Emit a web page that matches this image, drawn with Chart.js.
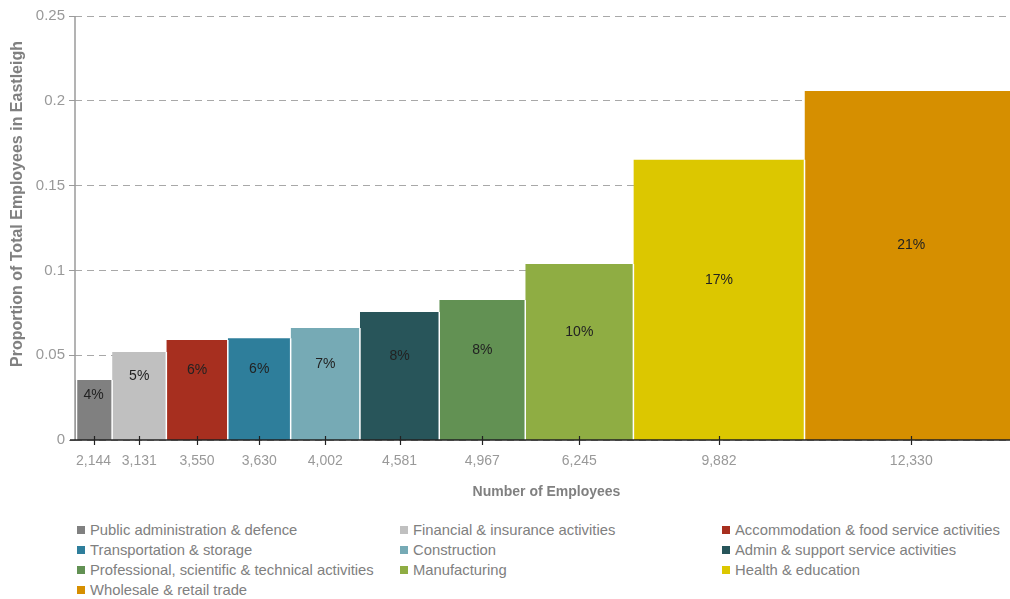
<!DOCTYPE html>
<html>
<head>
<meta charset="utf-8">
<title>Employees by sector, Eastleigh</title>
<script src="https://cdn.jsdelivr.net/npm/chart.js@4/dist/chart.umd.min.js"></script>
<style>
  html, body { margin: 0; padding: 0; background: #fff; overflow: hidden; }
  #wrap { position: relative; width: 1010px; height: 599px; overflow: hidden; font-family: "Liberation Sans", Arial, sans-serif; }
  #chart { position: absolute; left: 0; top: 0; }
  #legend { position: absolute; left: 0; top: 520px; width: 1010px; height: 80px; }
  .item { position: absolute; font-size: 14.8px; color: #808080; line-height: 20px; white-space: nowrap; }
  .item span.box { display: inline-block; width: 8px; height: 8px; margin-right: 5px; vertical-align: 1px; }
</style>
</head>
<body>
<div id="wrap">
  <canvas id="chart" width="1018" height="510"></canvas>
  <div id="legend"></div>
</div>
<script>
// Sectors, ordered from smallest to largest workforce
const categories = [
  "Public administration & defence",
  "Financial & insurance activities",
  "Accommodation & food service activities",
  "Transportation & storage",
  "Construction",
  "Admin & support service activities",
  "Professional, scientific & technical activities",
  "Manufacturing",
  "Health & education",
  "Wholesale & retail trade"
];
// Number of employees per sector (bar widths)
const employees = [2144, 3131, 3550, 3630, 4002, 4581, 4967, 6245, 9882, 12330];
// Share of all employees in Eastleigh (bar heights)
const proportions = [0.0354, 0.0519, 0.0590, 0.0600, 0.0660, 0.0755, 0.0825, 0.1038, 0.1652, 0.2058];
const colors = ["#808080", "#c0c0c0", "#a72f1f", "#2e7e9b", "#76aab5", "#28555a", "#629153", "#8fad43", "#dcc700", "#d68f00"];
const yTicks = [0, 0.05, 0.1, 0.15, 0.2, 0.25];

// Cumulative edges along the employee axis
const edges = [0];
employees.forEach(n => edges.push(edges[edges.length - 1] + n));
const centers = employees.map((n, i) => edges[i] + n / 2);
const total = edges[edges.length - 1];

// Each sector is a filled step from its left edge to its right edge
const datasets = categories.map((name, i) => ({
  label: name,
  data: [{ x: edges[i], y: proportions[i] }, { x: edges[i + 1], y: proportions[i] }],
  backgroundColor: colors[i],
  borderColor: "transparent",
  borderWidth: 0,
  pointRadius: 0,
  tension: 0,
  fill: "origin"
}));

const FONT = "'Liberation Sans', Arial, sans-serif";

const mekkoDecor = {
  id: "mekkoDecor",
  afterDatasetsDraw(chart) {
    const { ctx, chartArea, scales: { x, y } } = chart;
    const base = y.getPixelForValue(0);
    ctx.save();

    // white separators between neighbouring sectors
    ctx.strokeStyle = "#ffffff";
    ctx.lineWidth = 1.5;
    edges.forEach((e, i) => {
      const left = i > 0 ? proportions[i - 1] : 0;
      const right = i < proportions.length ? proportions[i] : 0;
      const top = y.getPixelForValue(Math.min(left, right) || Math.max(left, right));
      let px = x.getPixelForValue(e);
      if (i === 0) px += 1.5;
      ctx.beginPath();
      ctx.moveTo(px, base);
      ctx.lineTo(px, top);
      ctx.stroke();
    });

    // percentage labels
    ctx.fillStyle = "#222";
    ctx.font = "14px " + FONT;
    ctx.textAlign = "center";
    ctx.textBaseline = "middle";
    proportions.forEach((p, i) => {
      const top = y.getPixelForValue(p);
      const mid = (top + base) / 2;
      const ty = Math.max(top + 15, mid - 20);
      ctx.fillText(Math.round(p * 100) + "%", x.getPixelForValue(centers[i]), ty);
    });

    // value axis line
    ctx.strokeStyle = "#9a9a9a";
    ctx.lineWidth = 1.5;
    ctx.beginPath();
    ctx.moveTo(chartArea.left, chartArea.top);
    ctx.lineTo(chartArea.left, base);
    ctx.stroke();

    // employee axis line and tick crosses
    ctx.strokeStyle = "#222";
    ctx.lineWidth = 1.5;
    ctx.beginPath();
    ctx.moveTo(chartArea.left - 5, base);
    ctx.lineTo(chartArea.right, base);
    ctx.stroke();
    ctx.lineWidth = 1.2;
    centers.forEach(c => {
      const px = Math.round(x.getPixelForValue(c)) + 0.5;
      ctx.beginPath();
      ctx.moveTo(px, base - 4);
      ctx.lineTo(px, base + 5);
      ctx.stroke();
    });

    // value axis title
    ctx.translate(18, 204);
    ctx.rotate(-Math.PI / 2);
    ctx.fillStyle = "#808080";
    ctx.font = "bold 16px " + FONT;
    ctx.fillText("Proportion of Total Employees in Eastleigh", 0, 0);
    ctx.restore();
  }
};

new Chart(document.getElementById("chart"), {
  type: "line",
  data: { datasets },
  plugins: [mekkoDecor],
  options: {
    responsive: false,
    animation: false,
    events: [],
    layout: { padding: { top: 16, left: 0, right: 0, bottom: 0 } },
    plugins: { legend: { display: false }, tooltip: { enabled: false } },
    scales: {
      x: {
        type: "linear",
        min: 0,
        max: total,
        afterBuildTicks: scale => { scale.ticks = centers.map(v => ({ value: v })); },
        afterFit: scale => { scale.height = 70; },
        grid: { display: false, drawTicks: false },
        border: { display: false },
        ticks: {
          autoSkip: false,
          maxRotation: 0,
          padding: 13,
          color: "#999",
          font: { size: 14, family: FONT },
          callback: (v, i) => employees[i].toLocaleString("en-US")
        },
        title: {
          display: true,
          text: "Number of Employees",
          color: "#808080",
          font: { size: 14, weight: "bold", family: FONT },
          padding: { top: 4, bottom: 9 }
        }
      },
      y: {
        min: 0,
        max: 0.25,
        afterBuildTicks: scale => { scale.ticks = yTicks.map(v => ({ value: v })); },
        afterFit: scale => { scale.width = 75; },
        border: { display: false, dash: [7, 5] },
        grid: {
          color: "#a8a8a8",
          lineWidth: 1,
          tickLength: 6,
          tickColor: "#9a9a9a",
          tickBorderDash: []
        },
        ticks: {
          padding: 4,
          color: "#999",
          font: { size: 15, family: FONT },
          callback: v => String(+Number(v).toFixed(2))
        }
      }
    }
  }
});

// Legend laid out in three aligned columns
const legend = document.getElementById("legend");
const colX = [77, 400, 722];
categories.forEach((name, i) => {
  const el = document.createElement("div");
  el.className = "item";
  el.style.left = colX[i % 3] + "px";
  el.style.top = (Math.floor(i / 3) * 20) + "px";
  const box = document.createElement("span");
  box.className = "box";
  box.style.background = colors[i];
  el.appendChild(box);
  el.appendChild(document.createTextNode(name));
  legend.appendChild(el);
});
</script>
</body>
</html>
